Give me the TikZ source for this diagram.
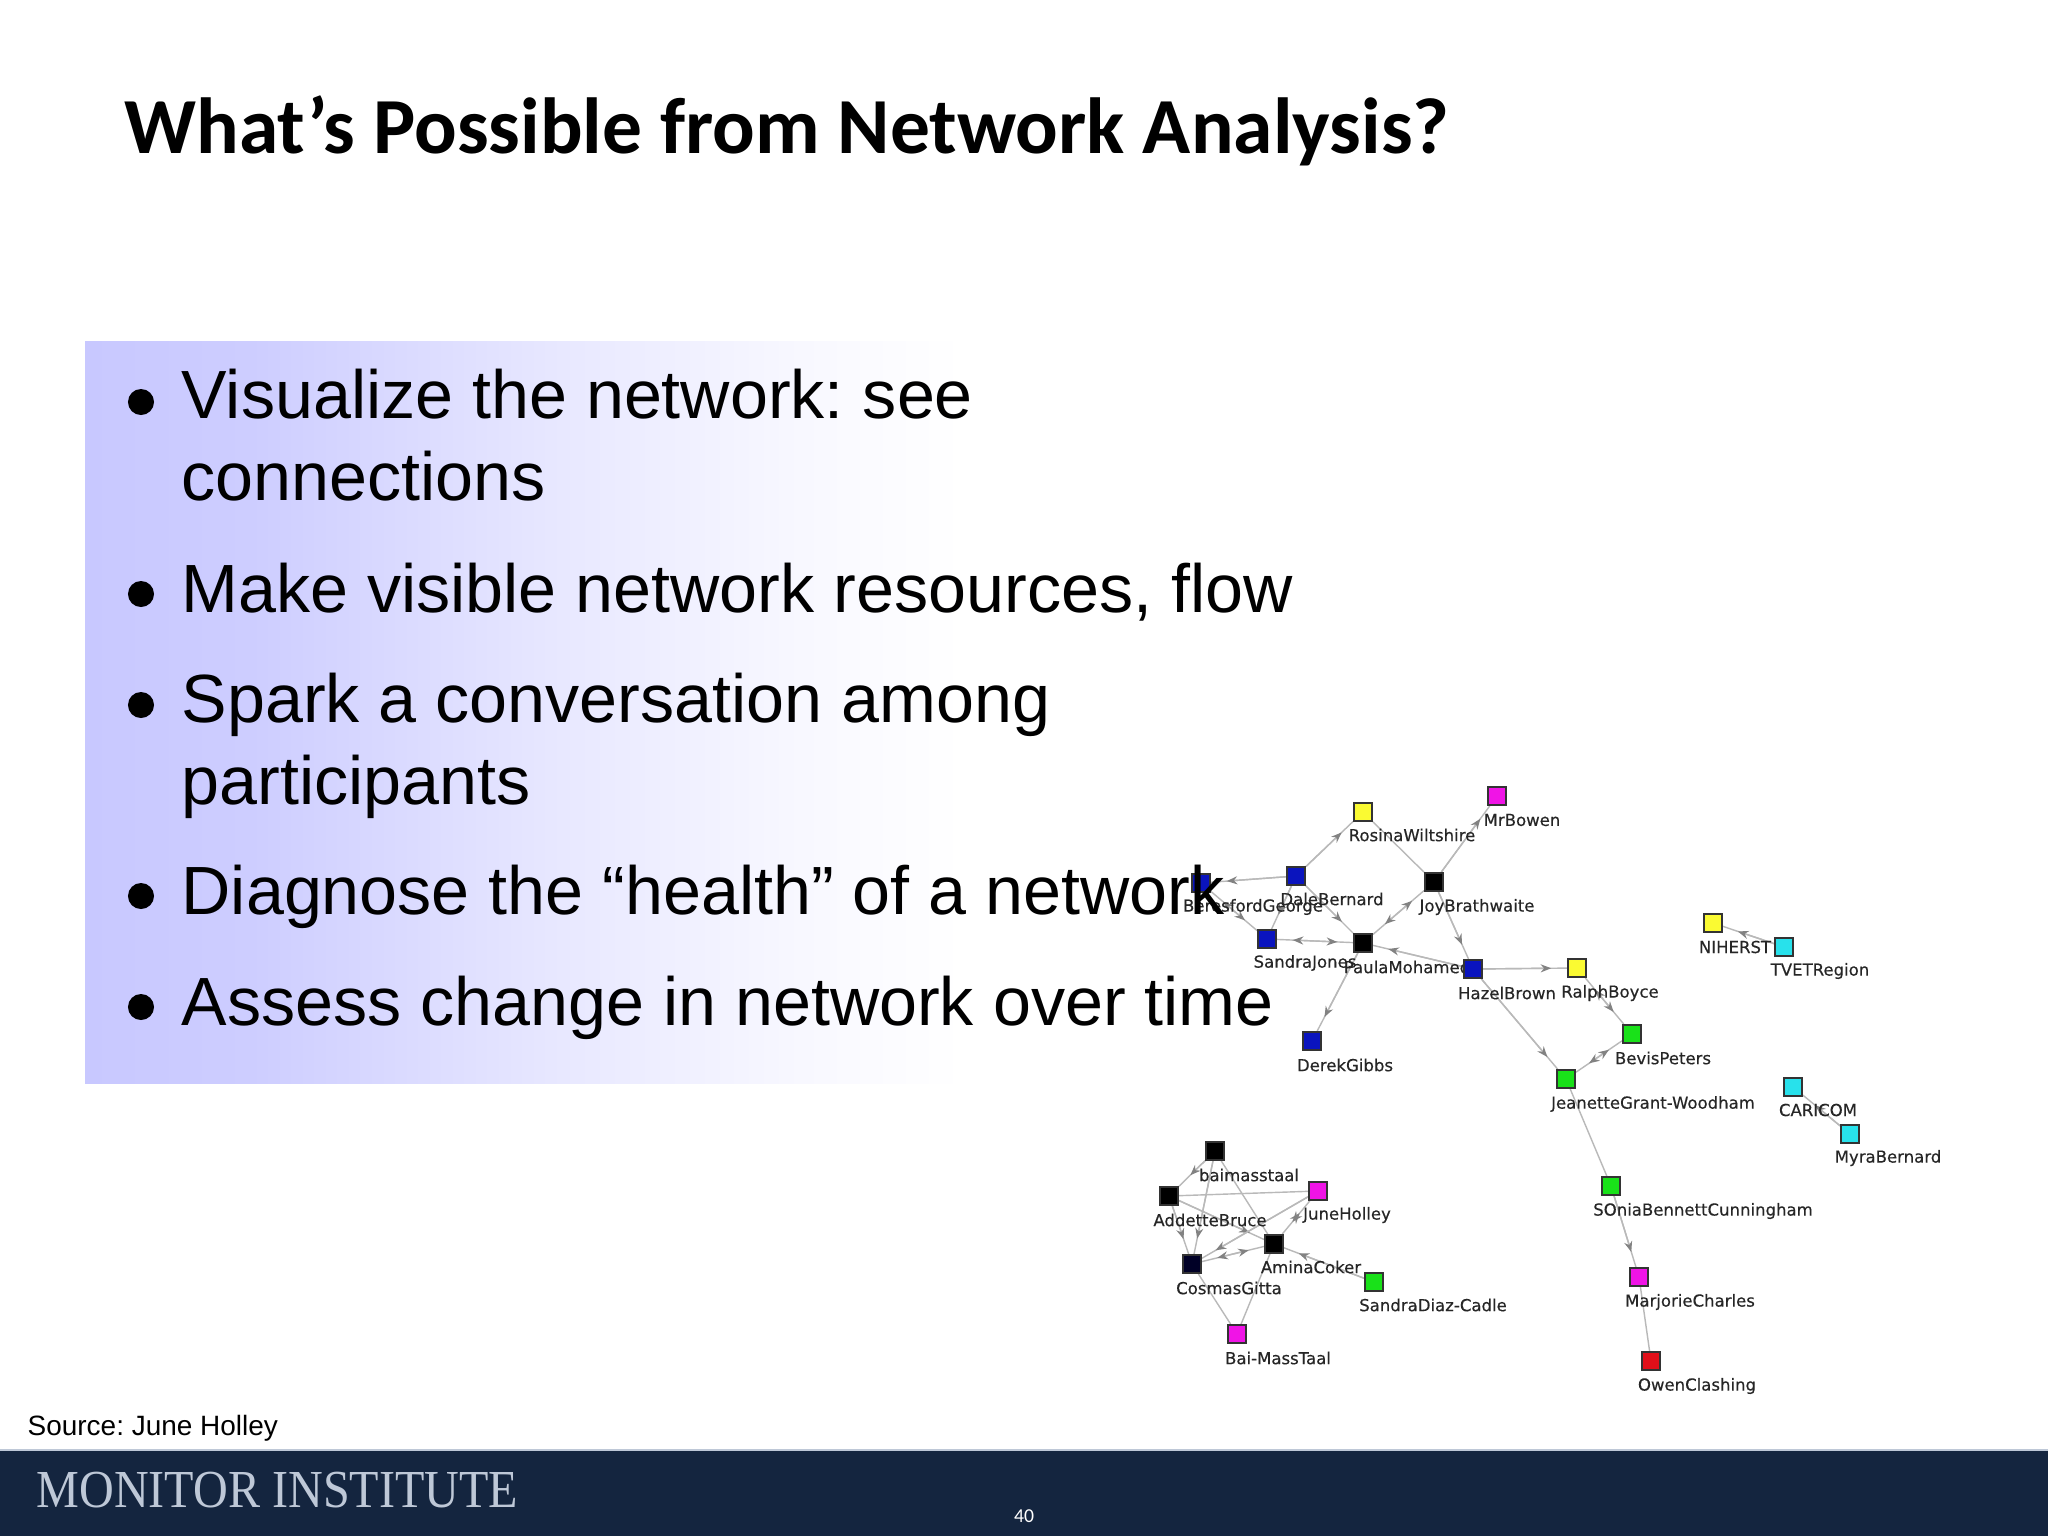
\documentclass[tikz,border=0pt]{standalone}
\usepackage{fontspec}
\usetikzlibrary{arrows.meta,backgrounds}
\setmainfont{Liberation Sans}
\newfontfamily\titlefont{Carlito}
\newfontfamily\graphfont[FakeBold=0.35]{DejaVu Sans}
\newfontfamily\logofont{Liberation Serif}
\definecolor{panelblue}{RGB}{200,200,255}
\definecolor{footblue}{RGB}{20,37,63}
\definecolor{logogrey}{RGB}{190,200,215}
\definecolor{linkgrey}{RGB}{185,185,185}
\definecolor{tipgrey}{RGB}{130,130,130}
\definecolor{vblue}{RGB}{10,20,190}
\definecolor{vgreen}{RGB}{25,225,25}
\definecolor{vyellow}{RGB}{250,250,50}
\definecolor{vmagenta}{RGB}{240,20,230}
\definecolor{vcyan}{RGB}{40,225,235}
\definecolor{vred}{RGB}{225,15,25}
\pgfdeclarehorizontalshading{panelfade}{100bp}{color(0bp)=(panelblue); color(25bp)=(panelblue); color(34bp)=(panelblue!91); color(51bp)=(panelblue!42); color(64bp)=(panelblue!13); color(73bp)=(white); color(100bp)=(white)}
\tikzset{
  headtip/.tip={Stealth[length=3pt,width=2.3pt,color=tipgrey]},
  vertex/.style={draw=black!80,line width=0.55pt,minimum size=0.18cm,inner sep=0pt},
  vname/.style={inner sep=0pt,text=black!85,font=\graphfont\fontsize{4.7}{5}\selectfont},
  plain/.style={draw=linkgrey,line width=0.4pt},
  link/.style={plain,postaction={draw,-headtip,shorten >=4.5pt}},
  both/.style={plain,postaction={draw,headtip-headtip,shorten >=4.5pt,shorten <=4.5pt}},
  item/.style={anchor=base west,inner sep=0pt,font=\fontsize{19.4}{23}\selectfont},
  dot/.style={circle,fill=black,minimum size=0.26cm,inner sep=0pt}
}
\frenchspacing
\begin{document}
\begin{tikzpicture}[x=0.01cm,y=-0.01cm]
\useasboundingbox (0,0) rectangle (2048,1536);
\begin{scope}[on background layer]
\fill [white] (0,0) rectangle (2048,1536);
\shade [shading=panelfade] (85,341) rectangle (1000,1083);
\end{scope}

% footer
\fill [footblue] (0,1450) rectangle (2048,1536);
\draw [logogrey,line width=0.4pt] (0,1450)--(2048,1450);
\node [anchor=base west,inner sep=0pt,text=logogrey,font=\logofont\fontsize{15.2}{17}\selectfont] (logo) at (36,1507) {\scalebox{0.9}[1]{MONITOR INSTITUTE}};
\node [inner sep=0pt,text=white,font=\titlefont\fontsize{5.6}{6}\selectfont] (pagenum) at (1024,1516) {40};
\node [anchor=base west,inner sep=0pt,font=\fontsize{7.95}{10}\selectfont] (source) at (27,1435) {Source: June Holley};

% title
\node [anchor=base west,inner sep=0pt,font=\titlefont\bfseries\fontsize{22.6}{27}\selectfont] (title) at (124,153) {What’s Possible from Network Analysis?};

% upper network
\node [vertex,fill=vyellow] (rosina) at (1363,812) {};
\node [vertex,fill=vmagenta] (bowen) at (1497,796) {};
\node [vertex,fill=vblue] (dale) at (1296,876) {};
\node [vertex,fill=vblue] (beresford) at (1201,883) {};
\node [vertex,fill=black] (joy) at (1434,882) {};
\node [vertex,fill=vblue] (sandraj) at (1267,939) {};
\node [vertex,fill=black] (paula) at (1363,943) {};
\node [vertex,fill=vyellow] (ralph) at (1577,968) {};
\node [vertex,fill=vblue] (derek) at (1312,1041) {};
\node [vertex,fill=vgreen] (bevis) at (1632,1034) {};
\node [vertex,fill=vgreen] (jeanette) at (1566,1079) {};
\node [vertex,fill=vgreen] (sonia) at (1611,1186) {};
\node [vertex,fill=vmagenta] (marjorie) at (1639,1277) {};
\node [vertex,fill=vred] (owen) at (1651,1361) {};
\node [vertex,fill=vyellow] (niherst) at (1713,923) {};
\node [vertex,fill=vcyan] (tvet) at (1784,947) {};
\node [vertex,fill=vcyan] (caricom) at (1793,1087) {};
\node [vertex,fill=vcyan] (myra) at (1850,1134) {};

\node [vname] (rosinaname) at (1412,835) {RosinaWiltshire};
\node [vname] (bowenname) at (1522,820) {MrBowen};
\node [vname] (beresfordname) at (1253,907) {BeresfordGeorge};
\node [vname] (dalename) at (1332,899) {DaleBernard};
\node [vname] (joyname) at (1477,907) {JoyBrathwaite};
\node [vname] (sandrajname) at (1305,963) {SandraJones};
\node [vname] (paulaname) at (1407,967) {PaulaMohamed};
\node [vname] (hazelname) at (1507,993) {HazelBrown};
\node [vname] (ralphname) at (1610,993) {RalphBoyce};
\node [vname] (derekname) at (1345,1065) {DerekGibbs};
\node [vname] (bevisname) at (1663,1058) {BevisPeters};
\node [vname] (jeanettename) at (1653,1104) {JeanetteGrant-Woodham};
\node [vname] (sonianame) at (1703,1211) {SOniaBennettCunningham};
\node [vname] (marjoriename) at (1690,1302) {MarjorieCharles};
\node [vname] (owenname) at (1697,1386) {OwenClashing};
\node [vname] (niherstname) at (1735,947) {NIHERST};
\node [vname] (tvetname) at (1820,971) {TVETRegion};
\node [vname] (caricomname) at (1818,1110) {CARICOM};
\node [vname] (myraname) at (1888,1158) {MyraBernard};

\node [vertex,fill=vblue] (hazel) at (1473,969) {};

\begin{scope}[on background layer]
\draw [link] (dale)--(rosina);
\draw [link] (dale)--(beresford);
\draw [plain] (rosina)--(joy);
\draw [link] (joy)--(bowen);
\draw [both] (joy)--(paula);
\draw [link] (dale)--(paula);
\draw [link] (dale)--(sandraj);
\draw [both] (beresford)--(sandraj);
\draw [both] (sandraj)--(paula);
\draw [link] (hazel)--(paula);
\draw [link] (joy)--(hazel);
\draw [link] (hazel)--(ralph);
\draw [link] (hazel)--(jeanette);
\draw [link] (paula)--(derek);
\draw [both] (ralph)--(bevis);
\draw [both] (bevis)--(jeanette);
\draw [plain] (jeanette)--(sonia);
\draw [link] (sonia)--(marjorie);
\draw [plain] (marjorie)--(owen);
\draw [link] (tvet)--(niherst);
\draw [link] (myra)--(caricom);
\end{scope}

% lower network
\node [vertex,fill=black] (baimass) at (1215,1151) {};
\node [vertex,fill=black] (addette) at (1169,1196) {};
\node [vertex,fill=vmagenta] (june) at (1318,1191) {};
\node [vertex,fill=black] (amina) at (1274,1244) {};
\node [vertex,fill=black!85!blue] (cosmas) at (1192,1264) {};
\node [vertex,fill=vgreen] (sandrad) at (1374,1282) {};
\node [vertex,fill=vmagenta] (baitaal) at (1237,1334) {};

\node [vname] (baimassname) at (1249,1175) {baimasstaal};
\node [vname] (addettename) at (1210,1220) {AddetteBruce};
\node [vname] (junename) at (1347,1215) {JuneHolley};
\node [vname] (aminaname) at (1311,1267) {AminaCoker};
\node [vname] (cosmasname) at (1229,1288) {CosmasGitta};
\node [vname] (sandradname) at (1433,1305) {SandraDiaz-Cadle};
\node [vname] (baitaalname) at (1278,1358) {Bai-MassTaal};

\begin{scope}[on background layer]
\draw [link] (baimass)--(addette);
\draw [link] (baimass)--(cosmas);
\draw [plain] (baimass)--(amina);
\draw [plain] (addette)--(june);
\draw [link] (addette)--(cosmas);
\draw [link] (addette)--(amina);
\draw [link] (june)--(cosmas);
\draw [both] (amina)--(june);
\draw [both] (amina)--(cosmas);
\draw [link] (sandrad)--(amina);
\draw [plain] (cosmas)--(baitaal);
\draw [plain] (amina)--(baitaal);
\end{scope}

% bullets
\node [dot] (dotone) at (141,402) {};
\node [dot] (dottwo) at (141,594) {};
\node [dot] (dotthree) at (141,705) {};
\node [dot] (dotfour) at (141,896) {};
\node [dot] (dotfive) at (141,1007) {};
\node [item] (visualize) at (181,418) {Visualize the network: see};
\node [item] (connections) at (181,500) {connections};
\node [item] (resources) at (181,612) {Make visible network resources, flow};
\node [item] (spark) at (181,722) {Spark a conversation among};
\node [item] (participants) at (181,804) {participants};
\node [item] (diagnose) at (181,914) {Diagnose the “health” of a network};
\node [item] (assess) at (181,1025) {Assess change in network over time};
\end{tikzpicture}
\end{document}
